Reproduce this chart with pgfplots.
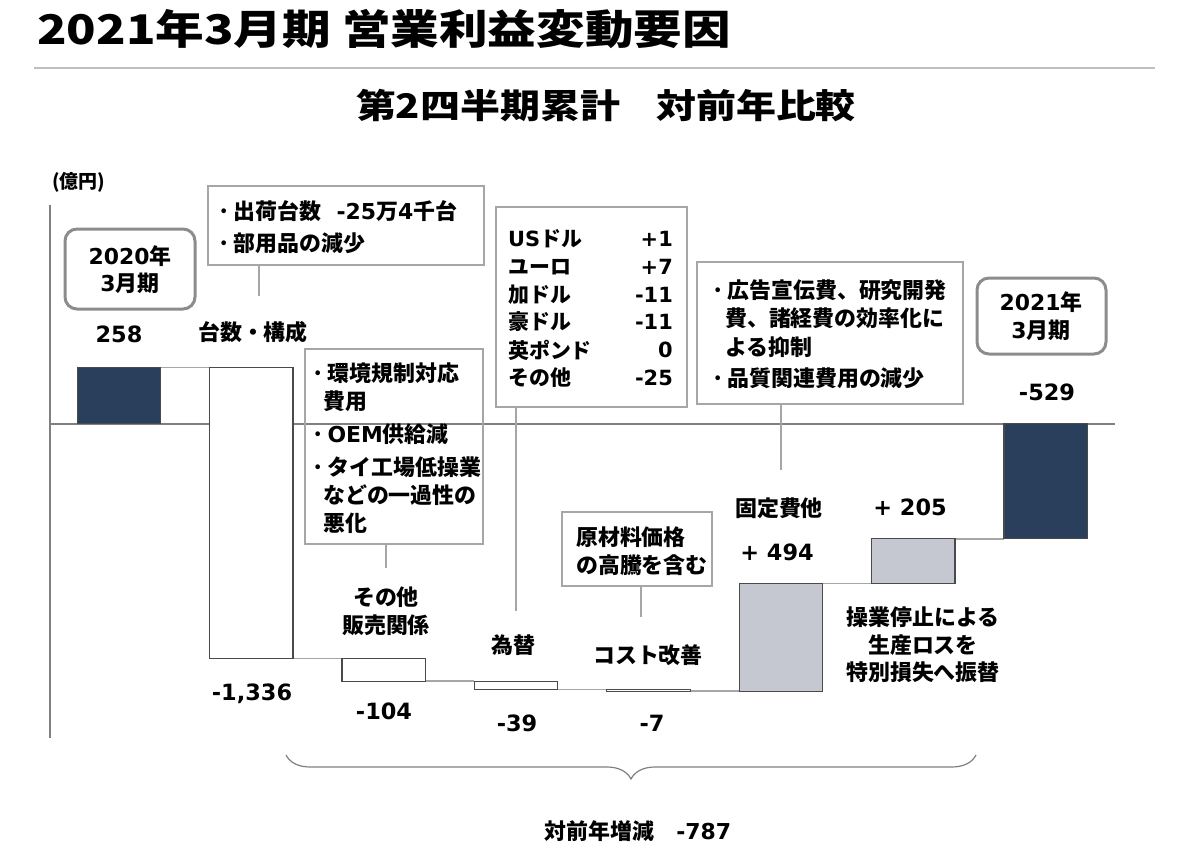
\documentclass[border=0pt]{standalone}
\usepackage{fontspec}
\setmainfont{Noto Sans CJK JP}
\newfontfamily\dv{DejaVu Sans}
\usepackage{pgfplots}
\pgfplotsset{compat=1.18}
\usetikzlibrary{decorations.pathreplacing}
\definecolor{navy}{HTML}{2A3F5C}
\definecolor{barg}{HTML}{C5C8D1}
\definecolor{edge}{HTML}{4A4A4A}
\definecolor{conn}{HTML}{A6A6A6}
\definecolor{boxg}{HTML}{A6A6A6}
\definecolor{rbox}{HTML}{8C8C8C}
\definecolor{axg}{HTML}{808080}
\pgfplotsset{
  frame/.style={at={(0,0)}, anchor=north west, scale only axis,
    width=1193bp, height=843bp,
    xmin=-0.8988, xmax=8.1118, ymin=-1924.3, ymax=1942.7,
    hide axis, clip=false}
}
\begin{document}
\begin{tikzpicture}
% background lines (pixel coordinates)
\begin{scope}[x=1bp,y=-1bp]
\path[use as bounding box] (0,0) rectangle (1193,843);
\draw[axg, line width=1.5bp] (50,205) -- (50,738);
\draw[axg, line width=1.5bp] (50,424) -- (1115,424);
\end{scope}
% connectors
\begin{axis}[frame]
\addplot[conn, line width=1.5bp, no marks] coordinates {(0.315,258) (0.685,258)};
\addplot[conn, line width=1.5bp, no marks] coordinates {(1.315,-1078) (1.685,-1078)};
\addplot[conn, line width=1.5bp, no marks] coordinates {(2.315,-1182) (2.685,-1182)};
\addplot[conn, line width=1.5bp, no marks] coordinates {(3.315,-1221) (3.685,-1221)};
\addplot[conn, line width=1.5bp, no marks] coordinates {(4.315,-1228) (4.685,-1228)};
\addplot[conn, line width=1.5bp, no marks] coordinates {(5.315,-734) (5.685,-734)};
\addplot[conn, line width=1.5bp, no marks] coordinates {(6.315,-529) (6.685,-529)};
\end{axis}
% waterfall bars
\begin{axis}[frame, ybar stacked, stack negative=on previous, bar width=0.63]
\addplot[draw=none, fill=none] coordinates {(0,0) (1,258) (2,-1078) (3,-1182) (4,-1221) (5,-1228) (6,-734) (7,0)};
\addplot[fill=navy, draw=edge, line width=1.2bp] coordinates {(0,258) (1,0) (2,0) (3,0) (4,0) (5,0) (6,0) (7,-529)};
\addplot[fill=white, draw=edge, line width=1.2bp] coordinates {(0,0) (1,-1336) (2,-104) (3,-39) (4,-7) (5,0) (6,0) (7,0)};
\addplot[fill=barg, draw=edge, line width=1.2bp] coordinates {(0,0) (1,0) (2,0) (3,0) (4,0) (5,494) (6,205) (7,0)};
\end{axis}
% annotations
\begin{scope}[x=1bp,y=-1bp,
  lab/.style={font=\fontsize{22}{26}\selectfont\bfseries, inner sep=0, align=center},
  num/.style={font=\fontsize{22.5}{26}\selectfont\bfseries\dv, inner sep=0},
  bt/.style={font=\fontsize{22}{25}\selectfont\bfseries, inner sep=0, anchor=west},
  ct/.style={font=\fontsize{21}{25}\selectfont\bfseries, inner sep=0, anchor=west},
  bx/.style={draw=boxg, line width=1.5bp},
  ld/.style={draw=boxg, line width=1.5bp}]
\node[anchor=west, inner sep=0, font=\fontsize{41}{48}\selectfont\bfseries] at (37,29) {\scalebox{1.19}[1]{2021年3月期 営業利益変動要因}};
\draw[gray!50, line width=2.5bp] (34,68) -- (1155,68);
\node[inner sep=0, font=\fontsize{34}{40}\selectfont\bfseries] at (606,106) {\scalebox{1.18}[1]{第2四半期累計\hspace{0.9em}対前年比較}};
\node[anchor=west, inner sep=0, font=\fontsize{19}{22}\selectfont\bfseries] at (52,182) {(億円)};
% start box
\draw[rbox, line width=3bp, rounded corners=12bp] (65,229) rectangle (195,309);
\node[lab] at (130,256) {{\dv 2020}年};
\node[lab] at (130,283) {{\dv 3}月期};
\node[num] at (119,334) {258};
% end box
\draw[rbox, line width=3bp, rounded corners=12bp] (977,278) rectangle (1106,354);
\node[lab] at (1041,302) {{\dv 2021}年};
\node[lab] at (1041,330) {{\dv 3}月期};
\node[num] at (1047,392) {-529};
% box 1
\draw[bx] (208,186) rectangle (484,265);
\draw[ld] (259,265) -- (259,296);
\node[bt] at (217,211) {·\hspace{3bp}出荷台数\hspace{0.7em}{\dv -25}万{\dv 4}千台};
\node[bt] at (217,243) {·\hspace{3bp}部用品の減少};
\node[lab] at (253,332) {台数・構成};
\node[num] at (252,694) {-1,336};
% box 2
\draw[bx] (305,349) rectangle (483,544);
\draw[ld] (386,544) -- (386,568);
\node[bt] at (311,373) {·\hspace{3bp}環境規制対応};
\node[bt] at (323,401) {費用};
\node[bt] at (311,434) {·\hspace{3bp}{\dv OEM}供給減};
\node[bt] at (311,467) {·\hspace{3bp}タイ工場低操業};
\node[bt] at (323,495) {などの一過性の};
\node[bt] at (323,523) {悪化};
\node[lab] at (386,597) {その他};
\node[lab] at (386,625) {販売関係};
\node[num] at (384,711) {-104};
% box 3 currency
\draw[bx] (496,207) rectangle (687,407);
\draw[ld] (516,407) -- (516,611);
\node[ct] at (508,239) {{\dv US}ドル};
\node[ct] at (508,267) {ユーロ};
\node[ct] at (508,295) {加ドル};
\node[ct] at (508,322) {豪ドル};
\node[ct] at (508,350) {英ポンド};
\node[ct] at (508,378) {その他};
\node[ct, anchor=east] at (673,239) {\dv +1};
\node[ct, anchor=east] at (673,267) {\dv +7};
\node[ct, anchor=east] at (673,295) {\dv -11};
\node[ct, anchor=east] at (673,322) {\dv -11};
\node[ct, anchor=east] at (673,350) {\dv 0};
\node[ct, anchor=east] at (673,378) {\dv -25};
\node[lab] at (513,645) {為替};
\node[num] at (517,723) {-39};
% box 4
\draw[bx] (562,512) rectangle (712,586);
\draw[ld] (641,586) -- (641,617);
\node[bt] at (576,537) {原材料価格};
\node[bt] at (576,565) {の高騰を含む};
\node[lab] at (648,655) {コスト改善};
\node[num] at (652,723) {-7};
% box 5
\draw[bx] (697,262) rectangle (963,404);
\draw[ld] (781,404) -- (781,470);
\node[bt] at (711,290) {·\hspace{3bp}広告宣伝費、研究開発};
\node[bt] at (725,318) {費、諸経費の効率化に};
\node[bt] at (725,347) {よる抑制};
\node[bt] at (711,378) {·\hspace{3bp}品質関連費用の減少};
\node[lab] at (779,508) {固定費他};
\node[num] at (777,552) {+ 494};
\node[num] at (910,507) {+ 205};
\node[lab] at (923,617) {操業停止による};
\node[lab] at (923,645) {生産ロスを};
\node[lab] at (923,672) {特別損失へ振替};
% brace
\draw[axg, line width=1.2bp, decorate, decoration={brace, amplitude=24bp}] (976,755) -- (286,755);
\node[lab] at (638,831) {対前年増減\hspace{1em}{\dv -787}};
\end{scope}
\end{tikzpicture}
\end{document}
